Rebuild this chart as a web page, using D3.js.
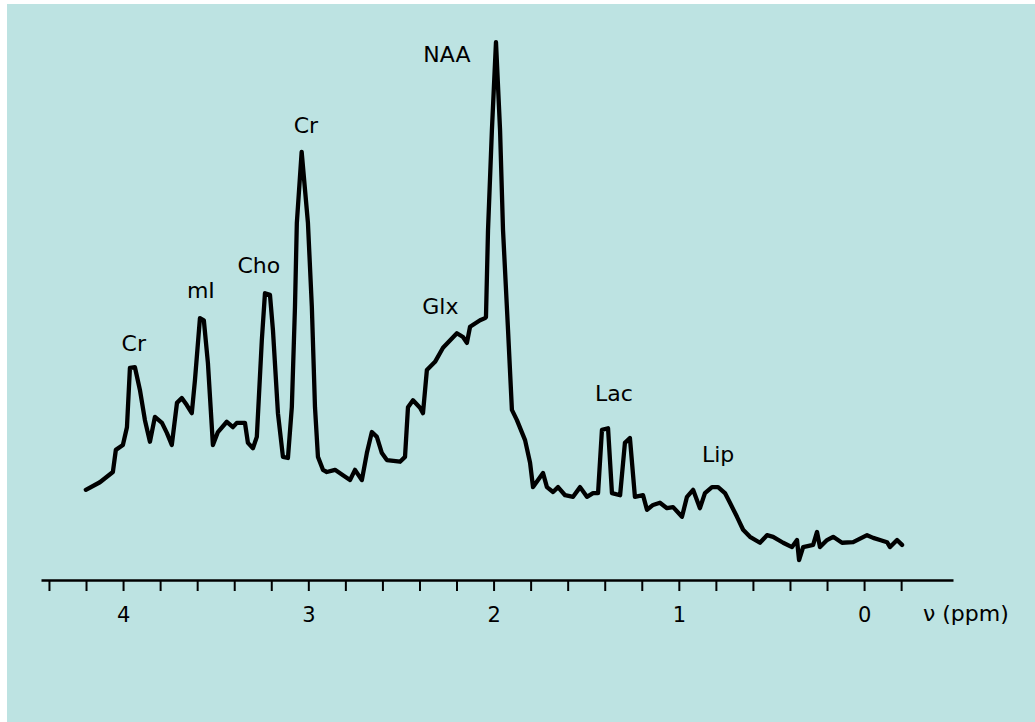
<!DOCTYPE html>
<html><head><meta charset="utf-8">
<title>MR spectrum</title>
<script src="https://cdn.jsdelivr.net/npm/d3@7/dist/d3.min.js"></script>
<style>
body { margin: 0; background: #ffffff; }
text { font-family: "DejaVu Sans", Verdana, sans-serif; fill: #000; }
</style>
</head>
<body>
<script>

// spectrum trace, chemical shift in ppm and signal (arbitrary units)
var ppm = [4.201, 4.125, 4.055, 4.039, 4.001, 3.979, 3.963, 3.936, 3.909, 3.882, 3.855, 3.828, 3.790, 3.763, 3.737,
	3.709, 3.683, 3.656, 3.629, 3.612, 3.585, 3.564, 3.542, 3.515, 3.488, 3.440, 3.407, 3.386, 3.342, 3.326, 3.299,
	3.278, 3.251, 3.234, 3.207, 3.191, 3.164, 3.137, 3.110, 3.089, 3.072, 3.062, 3.036, 3.002, 2.981, 2.964, 2.948,
	2.921, 2.900, 2.856, 2.813, 2.775, 2.748, 2.711, 2.684, 2.657, 2.630, 2.603, 2.576, 2.505, 2.478, 2.462, 2.435,
	2.397, 2.381, 2.360, 2.316, 2.273, 2.198, 2.165, 2.144, 2.127, 2.073, 2.046, 2.041, 2.030, 2.009, 1.987, 1.965,
	1.949, 1.922, 1.901, 1.874, 1.830, 1.803, 1.787, 1.760, 1.733, 1.712, 1.679, 1.652, 1.614, 1.571, 1.533, 1.496,
	1.463, 1.436, 1.415, 1.382, 1.361, 1.317, 1.291, 1.264, 1.237, 1.193, 1.172, 1.139, 1.102, 1.064, 1.031, 0.983,
	0.956, 0.923, 0.886, 0.859, 0.821, 0.788, 0.751, 0.724, 0.686, 0.653, 0.616, 0.562, 0.524, 0.491, 0.437, 0.389,
	0.362, 0.351, 0.329, 0.275, 0.254, 0.238, 0.200, 0.167, 0.119, 0.059, -0.016, -0.049, -0.086, -0.124, -0.140,
	-0.178, -0.205];
var signal = [16.7, 18.1, 20.0, 24.1, 25.0, 28.3, 39.3, 39.4, 35.2, 29.6, 25.6, 30.2, 29.1, 27.2, 25.0,
	32.8, 33.7, 32.4, 30.9, 37.0, 48.5, 48.1, 40.2, 25.0, 27.4, 29.3, 28.3, 29.1, 29.1, 25.4, 24.4,
	26.5, 44.4, 53.1, 52.8, 46.3, 30.9, 22.8, 22.6, 32.0, 50.6, 66.1, 79.3, 66.1, 50.6, 32.0, 22.8,
	20.4, 20.0, 20.4, 19.4, 18.5, 20.4, 18.5, 23.5, 27.4, 26.5, 23.5, 22.2, 21.9, 22.8, 32.0, 33.3,
	31.9, 30.9, 38.9, 40.4, 43.0, 45.7, 45.0, 43.9, 46.9, 48.1, 48.5, 48.7, 64.8, 83.3, 99.6, 83.3,
	64.8, 46.3, 31.5, 29.6, 25.9, 21.7, 17.2, 18.5, 19.8, 17.2, 16.3, 17.2, 15.7, 15.4, 17.2, 15.4,
	16.1, 16.1, 27.8, 28.1, 16.1, 15.7, 25.4, 26.3, 15.4, 15.7, 13.0, 13.9, 14.3, 13.3, 13.5, 11.7,
	15.4, 16.7, 13.3, 16.1, 17.2, 17.2, 16.1, 14.3, 11.7, 9.3, 8.0, 6.9, 8.3, 8.0, 6.9, 6.1,
	7.4, 3.7, 6.1, 6.5, 8.9, 6.1, 7.4, 8.0, 6.9, 7.0, 8.3, 7.8, 7.4, 7.0, 6.1,
	7.4, 6.5];

// peak labels
var peakNames = ["Cr", "mI", "Cho", "Cr", "NAA", "Glx", "Lac", "Lip"];
var peakPpm = [3.942, 3.580, 3.267, 3.013, 2.252, 2.287, 1.350, 0.788];
var peakLabelY = [42.4, 52.2, 56.9, 82.8, 95.9, 49.3, 33.1, 21.9];

// axis
var tickValues = [4.4, 4.2, 4.0, 3.8, 3.6, 3.4, 3.2, 3.0, 2.8, 2.6, 2.4, 2.2, 2.0, 1.8, 1.6, 1.4, 1.2, 1.0,
	0.8, 0.6, 0.4, 0.2, 0.0, -0.2];
var tickLabels = [4, 3, 2, 1, 0];
var axisTitle = "\u03BD (ppm)";

var width = 1035;
var height = 722;
var svg = d3.select("body").append("svg").attr("width", width).attr("height", height);

// panel background
svg.append("rect")
	.attr("x", 7).attr("y", 4)
	.attr("width", width - 7).attr("height", height - 4)
	.attr("fill", "#bde3e2");

var x = d3.scaleLinear().domain([4.443, -0.48]).range([41, 953]);
var y = d3.scaleLinear().domain([0, 100]).range([580, 40]);

var points = ppm.map(function(d, i) { return [d, signal[i]]; });

var line = d3.line()
	.x(function(d) { return x(d[0]); })
	.y(function(d) { return y(d[1]); });

svg.append("path")
	.datum(points)
	.attr("d", line)
	.attr("fill", "none")
	.attr("stroke", "#000")
	.attr("stroke-width", 4.3)
	.attr("stroke-linejoin", "round")
	.attr("stroke-linecap", "round");

// x axis, minor ticks every 0.2 ppm, numbers on the whole ppm
var axis = d3.axisBottom(x)
	.tickValues(tickValues)
	.tickSizeInner(11)
	.tickSizeOuter(0)
	.tickFormat(function(d) { return tickLabels.indexOf(Math.round(d * 10) / 10) >= 0 ? d3.format("d")(d) : ""; });

var gx = svg.append("g").attr("transform", "translate(0," + y(0) + ")").call(axis);
gx.select(".domain").attr("stroke", "#000").attr("stroke-width", 2.5);
gx.selectAll(".tick line").attr("stroke", "#000").attr("stroke-width", 2);
gx.selectAll(".tick text")
	.attr("y", 42).attr("dy", 0)
	.style("font-family", "DejaVu Sans, Verdana, sans-serif")
	.style("font-size", "21px")
	.attr("fill", "#000");

svg.append("text")
	.attr("x", 923).attr("y", 621)
	.style("font-size", "22px")
	.text(axisTitle);

svg.append("g").selectAll("text")
	.data(peakNames)
	.enter().append("text")
	.attr("x", function(d, i) { return x(peakPpm[i]); })
	.attr("y", function(d, i) { return y(peakLabelY[i]); })
	.attr("text-anchor", "middle")
	.style("font-size", "22px")
	.text(function(d) { return d; });

</script>
</body></html>
